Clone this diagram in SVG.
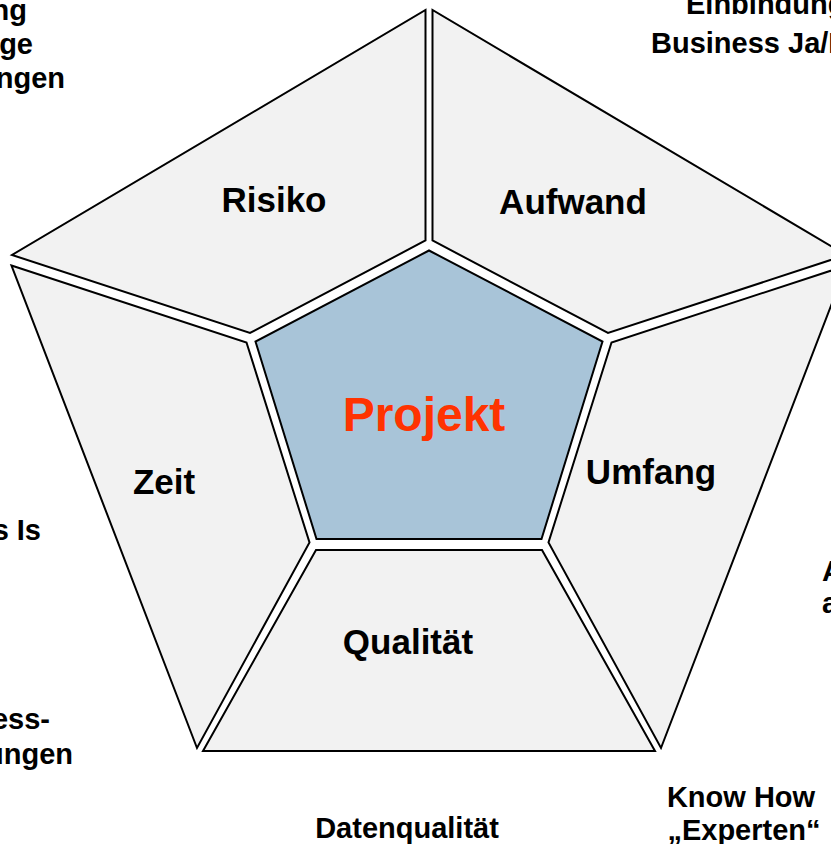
<svg xmlns="http://www.w3.org/2000/svg" width="831" height="844" viewBox="0 0 831 844">
<style>
.seg{fill:#f2f2f2;stroke:#000;stroke-width:2;stroke-linejoin:miter}
.core{fill:#a8c4d8;stroke:#000;stroke-width:2}
.lbl{font-family:"Liberation Sans",Arial,sans-serif;font-weight:bold;font-size:35px;fill:#000;text-anchor:middle}
.side{font-family:"Liberation Sans",Arial,sans-serif;font-weight:bold;font-size:29px;fill:#000}
.proj{font-family:"Liberation Sans",Arial,sans-serif;font-weight:bold;font-size:48px;fill:#ff3300;text-anchor:middle}
</style>
<rect width="831" height="844" fill="#fff"/>
<g id="risiko">
<polygon class="seg" points="425.5,10 425.5,240.5 250,333 12,255"/>
<text class="lbl" x="274" y="212">Risiko</text>
</g>
<g id="aufwand">
<polygon class="seg" points="432.5,10 432.5,240.5 608,333 846,255"/>
<text class="lbl" x="573" y="214">Aufwand</text>
</g>
<g id="zeit">
<polygon class="seg" points="11.5,265.5 246.5,342.5 309.5,542.5 197,748"/>
<text class="lbl" x="164" y="494">Zeit</text>
</g>
<g id="umfang">
<polygon class="seg" points="846.5,265.5 611.5,342.5 548.5,542.5 661,748"/>
<text class="lbl" x="651" y="484">Umfang</text>
</g>
<g id="qualitaet">
<polygon class="seg" points="316,550 542,550 655,751 203,751"/>
<text class="lbl" x="408" y="654">Qualität</text>
</g>
<g id="projekt">
<polygon class="core" points="429,250.5 602.5,341.5 541.5,539 316.5,539 255.5,341.5"/>
<text class="proj" x="424" y="431">Projekt</text>
</g>
<g id="connectors"></g>
<g id="outer-texts">
<text class="side" x="27" y="20" text-anchor="end">ng</text>
<text class="side" x="33" y="54" text-anchor="end">ge</text>
<text class="side" x="65" y="88" text-anchor="end">ngen</text>
<text class="side" x="686" y="14">Einbindung</text>
<text class="side" x="651" y="53">Business Ja/N</text>
<text class="side" x="41" y="540" text-anchor="end">s Is</text>
<text class="side" x="822" y="581">A</text>
<text class="side" x="822" y="613">a</text>
<text class="side" x="50" y="729" text-anchor="end">ess-</text>
<text class="side" x="73" y="764" text-anchor="end">ungen</text>
<text class="side" x="741" y="807" text-anchor="middle">Know How</text>
<text class="side" x="744" y="840" text-anchor="middle">„Experten“</text>
<text class="side" x="407" y="838" text-anchor="middle">Datenqualität</text>
</g>
</svg>
